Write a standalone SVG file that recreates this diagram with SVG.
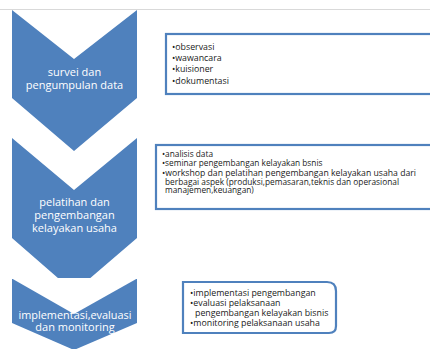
<svg xmlns="http://www.w3.org/2000/svg" width="430" height="349" viewBox="0 0 430 349">
<style>
.chev{fill:#4f81bd}
.ct{font-family:"Open Sans","Liberation Sans",sans-serif;font-size:11px;fill:#ffffff;text-anchor:middle}
.box{fill:#ffffff;stroke:#4f81bd;stroke-width:2.2}
.bt{font-family:"Open Sans","Liberation Sans",sans-serif;font-size:8.8px;fill:#1a1a1a}
.bt2{font-family:"Open Sans","Liberation Sans",sans-serif;font-size:8.3px;fill:#1a1a1a}
</style>
<rect x="0" y="0" width="430" height="349" fill="#ffffff"/>
<line x1="0" y1="9.5" x2="430" y2="9.5" stroke="#d9d9d9" stroke-width="1"/>
<g id="connectors"></g>
<g id="step1">
<path class="chev" d="M12,10 L74,59 L137,10 L137,98 L74,151 L12,98 Z"/>
<text class="ct" x="74.5" y="76">survei dan</text>
<text class="ct" x="74.5" y="89">pengumpulan data</text>
</g>
<g id="step2">
<path class="chev" d="M12,138 L74,190 L137,138 L137,238 L74,292 L12,238 Z"/>
<text class="ct" x="74.5" y="206">pelatihan dan</text>
<text class="ct" x="74.5" y="219">pengembangan</text>
<text class="ct" x="74.5" y="232">kelayakan usaha</text>
</g>
<g id="step3">
<path class="chev" d="M12,279 L137,279 L137,323 L74,350 L12,323 Z"/>
<text class="ct" x="75" y="319" textLength="113" lengthAdjust="spacingAndGlyphs">implementasi,evaluasi</text>
<text class="ct" x="75" y="331">dan monitoring</text>
<path fill="#ffffff" d="M11,278 L74,314 L138,278 Z"/>
</g>
<g id="box1">
<rect class="box" x="166" y="34" width="280" height="60"/>
<text class="bt" x="172" y="50">•observasi</text>
<text class="bt" x="172" y="61">•wawancara</text>
<text class="bt" x="172" y="72">•kuisioner</text>
<text class="bt" x="172" y="84">•dokumentasi</text>
</g>
<g id="box2">
<rect class="box" x="156" y="145" width="290" height="64"/>
<text class="bt2" x="162" y="157">•analisis data</text>
<text class="bt2" x="162" y="166">•seminar pengembangan kelayakan bsnis</text>
<text class="bt2" x="162" y="176" textLength="254" lengthAdjust="spacingAndGlyphs">•workshop dan pelatihan pengembangan kelayakan usaha dari</text>
<text class="bt2" x="165" y="184.5" textLength="234" lengthAdjust="spacingAndGlyphs">berbagai aspek (produksi,pemasaran,teknis dan operasional</text>
<text class="bt2" x="165" y="193">manajemen,keuangan)</text>
</g>
<g id="box3">
<path class="box" d="M183,282 H327 Q336,282 336,291 V326 Q336,333 329,333 H183 Z"/>
<text class="bt" x="190" y="296">•implementasi pengembangan</text>
<text class="bt" x="190" y="306">•evaluasi pelaksanaan</text>
<text class="bt" x="195" y="316">pengembangan kelayakan bisnis</text>
<text class="bt" x="190" y="326">•monitoring pelaksanaan usaha</text>
</g>
</svg>
